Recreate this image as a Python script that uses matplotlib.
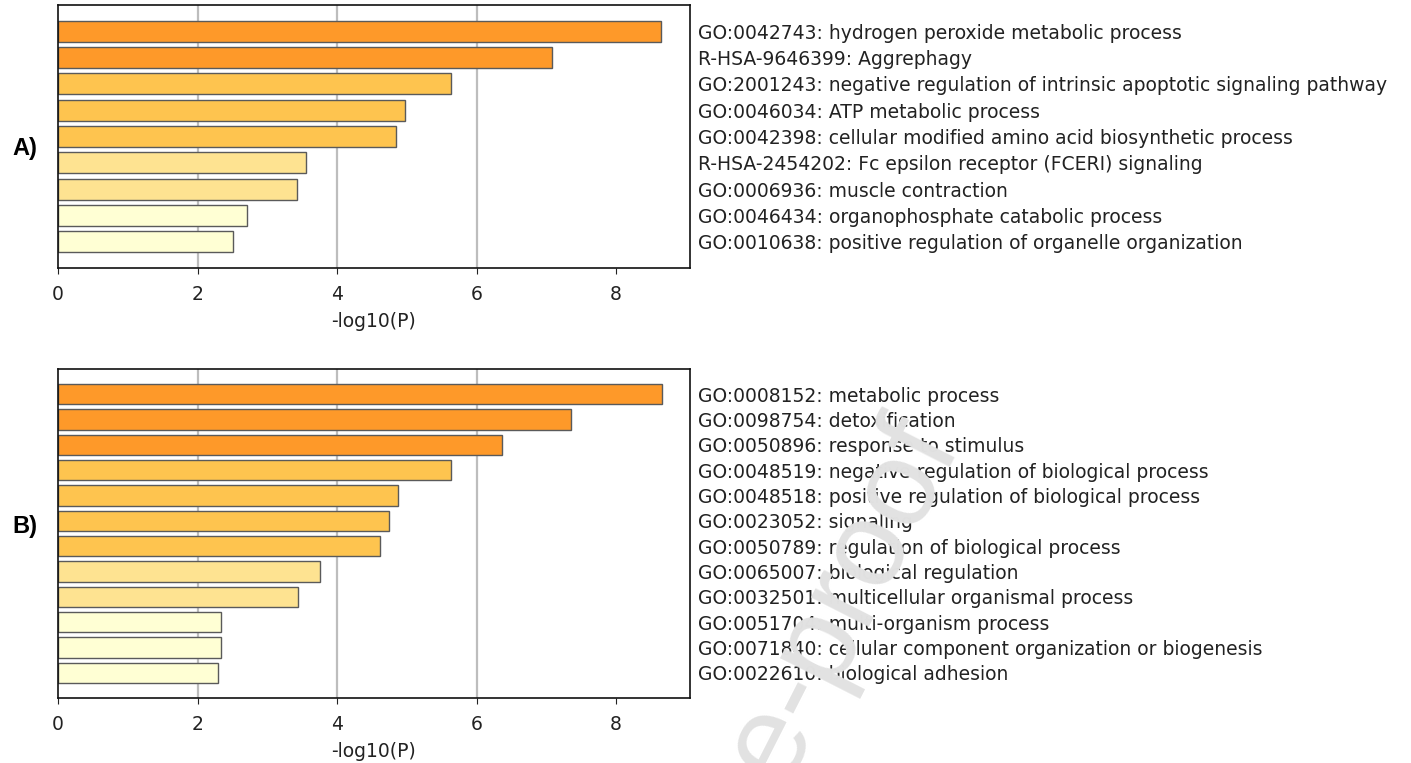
import matplotlib
matplotlib.use("Agg")
import matplotlib.pyplot as plt

# ---- data ----
terms_a = [
    "GO:0042743: hydrogen peroxide metabolic process",
    "R-HSA-9646399: Aggrephagy",
    "GO:2001243: negative regulation of intrinsic apoptotic signaling pathway",
    "GO:0046034: ATP metabolic process",
    "GO:0042398: cellular modified amino acid biosynthetic process",
    "R-HSA-2454202: Fc epsilon receptor (FCERI) signaling",
    "GO:0006936: muscle contraction",
    "GO:0046434: organophosphate catabolic process",
    "GO:0010638: positive regulation of organelle organization",
]
logp_a = [8.64, 7.08, 5.63, 4.97, 4.85, 3.55, 3.43, 2.71, 2.51]
colors_a = ["#FE9929", "#FE9929", "#FEC44F", "#FEC44F", "#FEC44F",
            "#FEE391", "#FEE391", "#FFFFD4", "#FFFFD4"]

terms_b = [
    "GO:0008152: metabolic process",
    "GO:0098754: detoxification",
    "GO:0050896: response to stimulus",
    "GO:0048519: negative regulation of biological process",
    "GO:0048518: positive regulation of biological process",
    "GO:0023052: signaling",
    "GO:0050789: regulation of biological process",
    "GO:0065007: biological regulation",
    "GO:0032501: multicellular organismal process",
    "GO:0051704: multi-organism process",
    "GO:0071840: cellular component organization or biogenesis",
    "GO:0022610: biological adhesion",
]
logp_b = [8.66, 7.35, 6.37, 5.64, 4.88, 4.75, 4.61, 3.75, 3.44, 2.34, 2.34, 2.30]
colors_b = ["#FE9929", "#FE9929", "#FE9929", "#FEC44F", "#FEC44F", "#FEC44F",
            "#FEC44F", "#FEE391", "#FEE391", "#FFFFD4", "#FFFFD4", "#FFFFD4"]

xticks = [0, 2, 4, 6, 8]
panel_labels = ["A)", "B)"]
xlabel = "-log10(P)"
watermark = "Journal Pre-proof"

plt.rcParams['font.family'] = ['DejaVu Sans']

fig = plt.figure(figsize=(14.11, 7.63), dpi=100)
W, H = 1411, 763
FS = 13.5

def make_panel(rect, terms, vals, cols):
    ax = fig.add_axes(rect)
    n = len(terms)
    pos = list(range(n))
    for g in xticks[1:-1]:
        ax.axvline(g, color="#bdbdbd", lw=1.6, zorder=0)
    ax.barh(pos, vals, height=0.8, color=cols, edgecolor="#5a5a5a",
            linewidth=1.0, zorder=2)
    ax.set_ylim(n, -1)
    ax.set_xlim(0, 9.06)
    ax.set_xticks(xticks)
    ax.set_yticks(pos)
    ax.set_yticklabels(terms, fontsize=FS, color="#222222")
    ax.yaxis.tick_right()
    ax.tick_params(axis="y", length=0, pad=6)
    ax.tick_params(axis="x", labelsize=FS, length=4, pad=8, colors="#222222")
    ax.set_xlabel(xlabel, fontsize=FS, color="#222222", labelpad=6)
    for s in ax.spines.values():
        s.set_linewidth(1.2)
        s.set_color("#111111")
    return ax

def rect_px(l, t, r, b):
    return [l / W, 1 - b / H, (r - l) / W, (b - t) / H]

make_panel(rect_px(58, 5, 690, 268), terms_a, logp_a, colors_a)
make_panel(rect_px(58, 369, 690, 698), terms_b, logp_b, colors_b)

fig.text(25 / W, 1 - 149 / H, panel_labels[0], fontsize=17, fontweight="bold",
         family="Liberation Sans", ha="center", va="center")
fig.text(25 / W, 1 - 526 / H, panel_labels[1], fontsize=17, fontweight="bold",
         family="Liberation Sans", ha="center", va="center")

fig.text(962 / W, 1 - 446 / H, watermark, fontsize=88, color="#e2e2e2",
         family="Liberation Sans", rotation=63, rotation_mode="anchor",
         ha="right", va="baseline", zorder=100)

fig.savefig("out.png", dpi=100)
